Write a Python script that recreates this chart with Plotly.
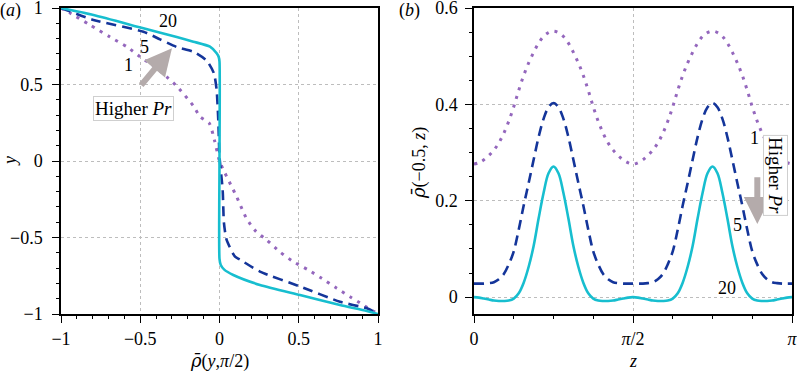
import numpy as np
import plotly.graph_objects as go

# ---------------- data: panel (a)  rho(y, pi/2) vs y ----------------
A_PR1_RHO = [-1.0, -0.943, -0.817, -0.69, -0.585, -0.50, -0.396, -0.333, -0.27, -0.165, -0.123,
             -0.064, -0.032, 0.0, 0.035, 0.077, 0.108, 0.17, 0.23, 0.298, 0.38, 0.466, 0.56,
             0.645, 0.74, 0.823, 0.907, 1.0]
A_PR1_Y = [1.0, 0.967, 0.889, 0.81, 0.747, 0.68, 0.606, 0.55, 0.49, 0.36, 0.29,
           0.246, 0.137, 0.0, -0.08, -0.168, -0.233, -0.375, -0.46, -0.516, -0.593, -0.658, -0.712,
           -0.767, -0.832, -0.887, -0.941, -1.0]

A_PR5_RHO = [-1.0, -0.795, -0.48, -0.375, -0.27, -0.165, -0.08, -0.035, -0.018, -0.007, 0.0,
             0.02, 0.028, 0.045, 0.098, 0.13, 0.255, 0.508, 0.76, 0.93, 1.0]
A_PR5_Y = [1.0, 0.922, 0.845, 0.795, 0.745, 0.714, 0.655, 0.573, 0.464, 0.25, 0.03,
           -0.19, -0.405, -0.516, -0.625, -0.645, -0.723, -0.82, -0.92, -0.963, -1.0]

A_PR20_RHO = [-1.0, -0.795, -0.48, -0.27, -0.165, -0.06, -0.018, -0.005, 0.0, 0.0, 0.0,
              0.008, 0.03, 0.087, 0.255, 0.508, 0.76, 0.93, 1.0]
A_PR20_Y = [1.0, 0.954, 0.867, 0.81, 0.78, 0.747, 0.704, 0.68, 0.65, 0.0, -0.64,
            -0.68, -0.71, -0.745, -0.81, -0.876, -0.941, -0.98, -1.0]

# ---------------- data: panel (b)  rho(-0.5, z), z = k*pi/64 ----------------
B_K = list(range(65))
B_PR1 = [0.276, 0.279, 0.285, 0.294, 0.305, 0.320, 0.340, 0.365, 0.395, 0.429, 0.460, 0.486,
         0.508, 0.527, 0.541, 0.549, 0.552, 0.549, 0.541, 0.527, 0.508, 0.486, 0.460, 0.429,
         0.395, 0.365, 0.340, 0.320, 0.305, 0.294, 0.285, 0.279, 0.276,
         0.279, 0.285, 0.294, 0.305, 0.320, 0.340, 0.365, 0.395, 0.429, 0.460, 0.486, 0.508,
         0.527, 0.541, 0.549, 0.552, 0.549, 0.541, 0.527, 0.508, 0.486, 0.460, 0.429, 0.395,
         0.365, 0.340, 0.320, 0.305, 0.294, 0.285, 0.279, 0.276]
B_PR5 = [0.028, 0.028, 0.028, 0.029, 0.031, 0.037, 0.048, 0.068, 0.095, 0.140, 0.190, 0.237,
         0.285, 0.332, 0.370, 0.394, 0.403, 0.394, 0.370, 0.332, 0.285, 0.237, 0.190, 0.140,
         0.095, 0.068, 0.048, 0.037, 0.031, 0.029, 0.028, 0.028, 0.028,
         0.028, 0.028, 0.029, 0.031, 0.037, 0.048, 0.068, 0.095, 0.140, 0.190, 0.237, 0.285,
         0.332, 0.370, 0.394, 0.403, 0.394, 0.370, 0.332, 0.285, 0.237, 0.190, 0.140, 0.095,
         0.068, 0.048, 0.037, 0.031, 0.029, 0.028, 0.028, 0.028]
B_PR20 = [0.0, -0.001, -0.003, -0.005, -0.007, -0.008, -0.008, -0.007, -0.003, 0.008, 0.030,
          0.063, 0.106, 0.163, 0.216, 0.257, 0.271, 0.257, 0.216, 0.163, 0.106, 0.063, 0.030,
          0.008, -0.003, -0.007, -0.008, -0.008, -0.007, -0.005, -0.003, -0.001, 0.0,
          -0.001, -0.003, -0.005, -0.007, -0.008, -0.008, -0.007, -0.003, 0.008, 0.030, 0.063,
          0.106, 0.163, 0.216, 0.257, 0.271, 0.257, 0.216, 0.163, 0.106, 0.063, 0.030, 0.008,
          -0.003, -0.007, -0.008, -0.008, -0.007, -0.005, -0.003, -0.001, 0.0]
B_Z = [k * np.pi / 64 for k in B_K]

# ---------------- styles ----------------
C1 = '#9467bd'
C5 = '#14359a'
C20 = '#17becf'
ARROW = '#b4abab'
FONT = 'Liberation Serif, Times New Roman, serif'
FS = 18
W, H = 797, 375
RHOBAR = "<span style=\"font-family:'DejaVu Serif'\"><i>ρ\u0304</i></span>"

fig = go.Figure()

def add(x, y, color, dash, width, xa, ya, smoothing):
    fig.add_trace(go.Scatter(x=x, y=y, mode='lines', xaxis=xa, yaxis=ya,
                             line=dict(color=color, dash=dash, width=width, shape='spline',
                                       smoothing=smoothing),
                             showlegend=False, hoverinfo='skip'))

add(A_PR1_RHO, A_PR1_Y, C1, '3px,6px', 3, 'x', 'y', 0.6)
add(A_PR5_RHO, A_PR5_Y, C5, '10px,6px', 2.6, 'x', 'y', 0.6)
add(A_PR20_RHO, A_PR20_Y, C20, 'solid', 2.6, 'x', 'y', 0.6)

add(B_Z, B_PR1, C1, '3px,6px', 3, 'x2', 'y2', 1.0)
add(B_Z, B_PR5, C5, '10px,6px', 2.6, 'x2', 'y2', 1.0)
add(B_Z, B_PR20, C20, 'solid', 2.6, 'x2', 'y2', 1.0)

def px2fx(p):
    return p / W

def py2fy(p):
    return 1 - p / H

common = dict(showline=True, linecolor='black', linewidth=1.5, mirror=True,
              ticks='outside', ticklen=7, tickwidth=1.2, tickcolor='black',
              showgrid=True, gridcolor='#bdbdbd', griddash='dot', gridwidth=1,
              zeroline=False, automargin=False, ticklabeloverflow='allow',
              tickfont=dict(family=FONT, size=FS, color='black'))
minor_common = dict(ticks='outside', ticklen=3.5, tickwidth=1, tickcolor='black', showgrid=False)

fig.update_layout(
    template='none',
    width=W, height=H, margin=dict(l=0, r=0, t=0, b=0, autoexpand=False),
    paper_bgcolor='white', plot_bgcolor='white', showlegend=False,
    xaxis=dict(domain=[px2fx(61), px2fx(378)], range=[-1, 1], dtick=0.5, tick0=0,
               ticklabelstandoff=1,
               minor=dict(dtick=0.1, tick0=0, **minor_common), **common),
    yaxis=dict(domain=[py2fy(314), py2fy(8)], range=[-1, 1], dtick=0.5, tick0=0,
               ticklabelstandoff=6,
               minor=dict(dtick=0.1, tick0=0, **minor_common), **common),
    xaxis2=dict(domain=[px2fx(474), px2fx(792)], range=[0, np.pi], anchor='y2',
                tickmode='array', tickvals=[0, np.pi / 2, np.pi],
                ticktext=['0', '<i>π</i>/2', '<i>π</i>'], ticklabelstandoff=1,
                minor=dict(tickmode='linear', tick0=0, dtick=np.pi / 8, **minor_common),
                **common),
    yaxis2=dict(domain=[py2fy(314), py2fy(8)], range=[-0.035, 0.6], anchor='x2',
                dtick=0.2, tick0=0, ticklabelstandoff=4,
                minor=dict(dtick=0.05, tick0=0, **minor_common), **common),
)

tf = dict(family=FONT, size=FS, color='black')
ctr = dict(xanchor='center', yanchor='middle', showarrow=False, font=tf)
ann = []
# panel labels and axis titles
ann.append(dict(text='(<i>a</i>)', x=px2fx(10), y=py2fy(11), xref='paper', yref='paper', **ctr))
ann.append(dict(text='(<i>b</i>)', x=px2fx(409), y=py2fy(11), xref='paper', yref='paper', **ctr))
ann.append(dict(text=RHOBAR + '(<i>y</i>,<i>π</i>/2)', x=px2fx(219), y=py2fy(361),
                xref='paper', yref='paper', **ctr))
ann.append(dict(text='<i>y</i>', x=px2fx(10), y=py2fy(161), xref='paper', yref='paper',
                textangle=-90, **ctr))
ann.append(dict(text='<i>z</i>', x=px2fx(633), y=py2fy(361), xref='paper', yref='paper', **ctr))
ann.append(dict(text=RHOBAR + '(−0.5, <i>z</i>)', x=px2fx(419), y=py2fy(163),
                xref='paper', yref='paper', textangle=-90, **ctr))

# panel (a) curve labels
for t, xx, yy in [('20', -0.325, 0.915), ('5', -0.476, 0.745), ('1', -0.575, 0.627)]:
    ann.append(dict(text=t, x=xx, y=yy, xref='x', yref='y', **ctr))
ann.append(dict(text='', x=-0.30, y=0.737, ax=-0.502, ay=0.486, xref='x', yref='y',
                axref='x', ayref='y', showarrow=True, arrowhead=2, arrowsize=0.9,
                arrowwidth=6, arrowcolor=ARROW))
hf = dict(family=FONT, size=19, color='black')
ann.append(dict(text='Higher <i>Pr</i>', x=-0.544, y=0.344, xref='x', yref='y',
                xanchor='center', yanchor='middle', showarrow=False, font=hf,
                bgcolor='white', bordercolor='#cfcfcf', borderwidth=1, borderpad=1))

# panel (b) curve labels
for t, xx, yy in [('1', 2.776, 0.331), ('5', 2.603, 0.15), ('20', 2.497, 0.02)]:
    ann.append(dict(text=t, x=xx, y=yy, xref='x2', yref='y2', **ctr))
ann.append(dict(text='', x=2.799, y=0.152, ax=2.799, ay=0.252, xref='x2', yref='y2',
                axref='x2', ayref='y2', showarrow=True, arrowhead=2, arrowsize=0.9,
                arrowwidth=6, arrowcolor=ARROW))
ann.append(dict(text='Higher <i>Pr</i>', x=2.979, y=0.2525, xref='x2', yref='y2',
                xanchor='center', yanchor='middle', showarrow=False, font=hf,
                bgcolor='white', bordercolor='#cfcfcf', borderwidth=1, borderpad=1,
                textangle=90))

fig.update_layout(annotations=ann)
fig.write_html('out.html')
